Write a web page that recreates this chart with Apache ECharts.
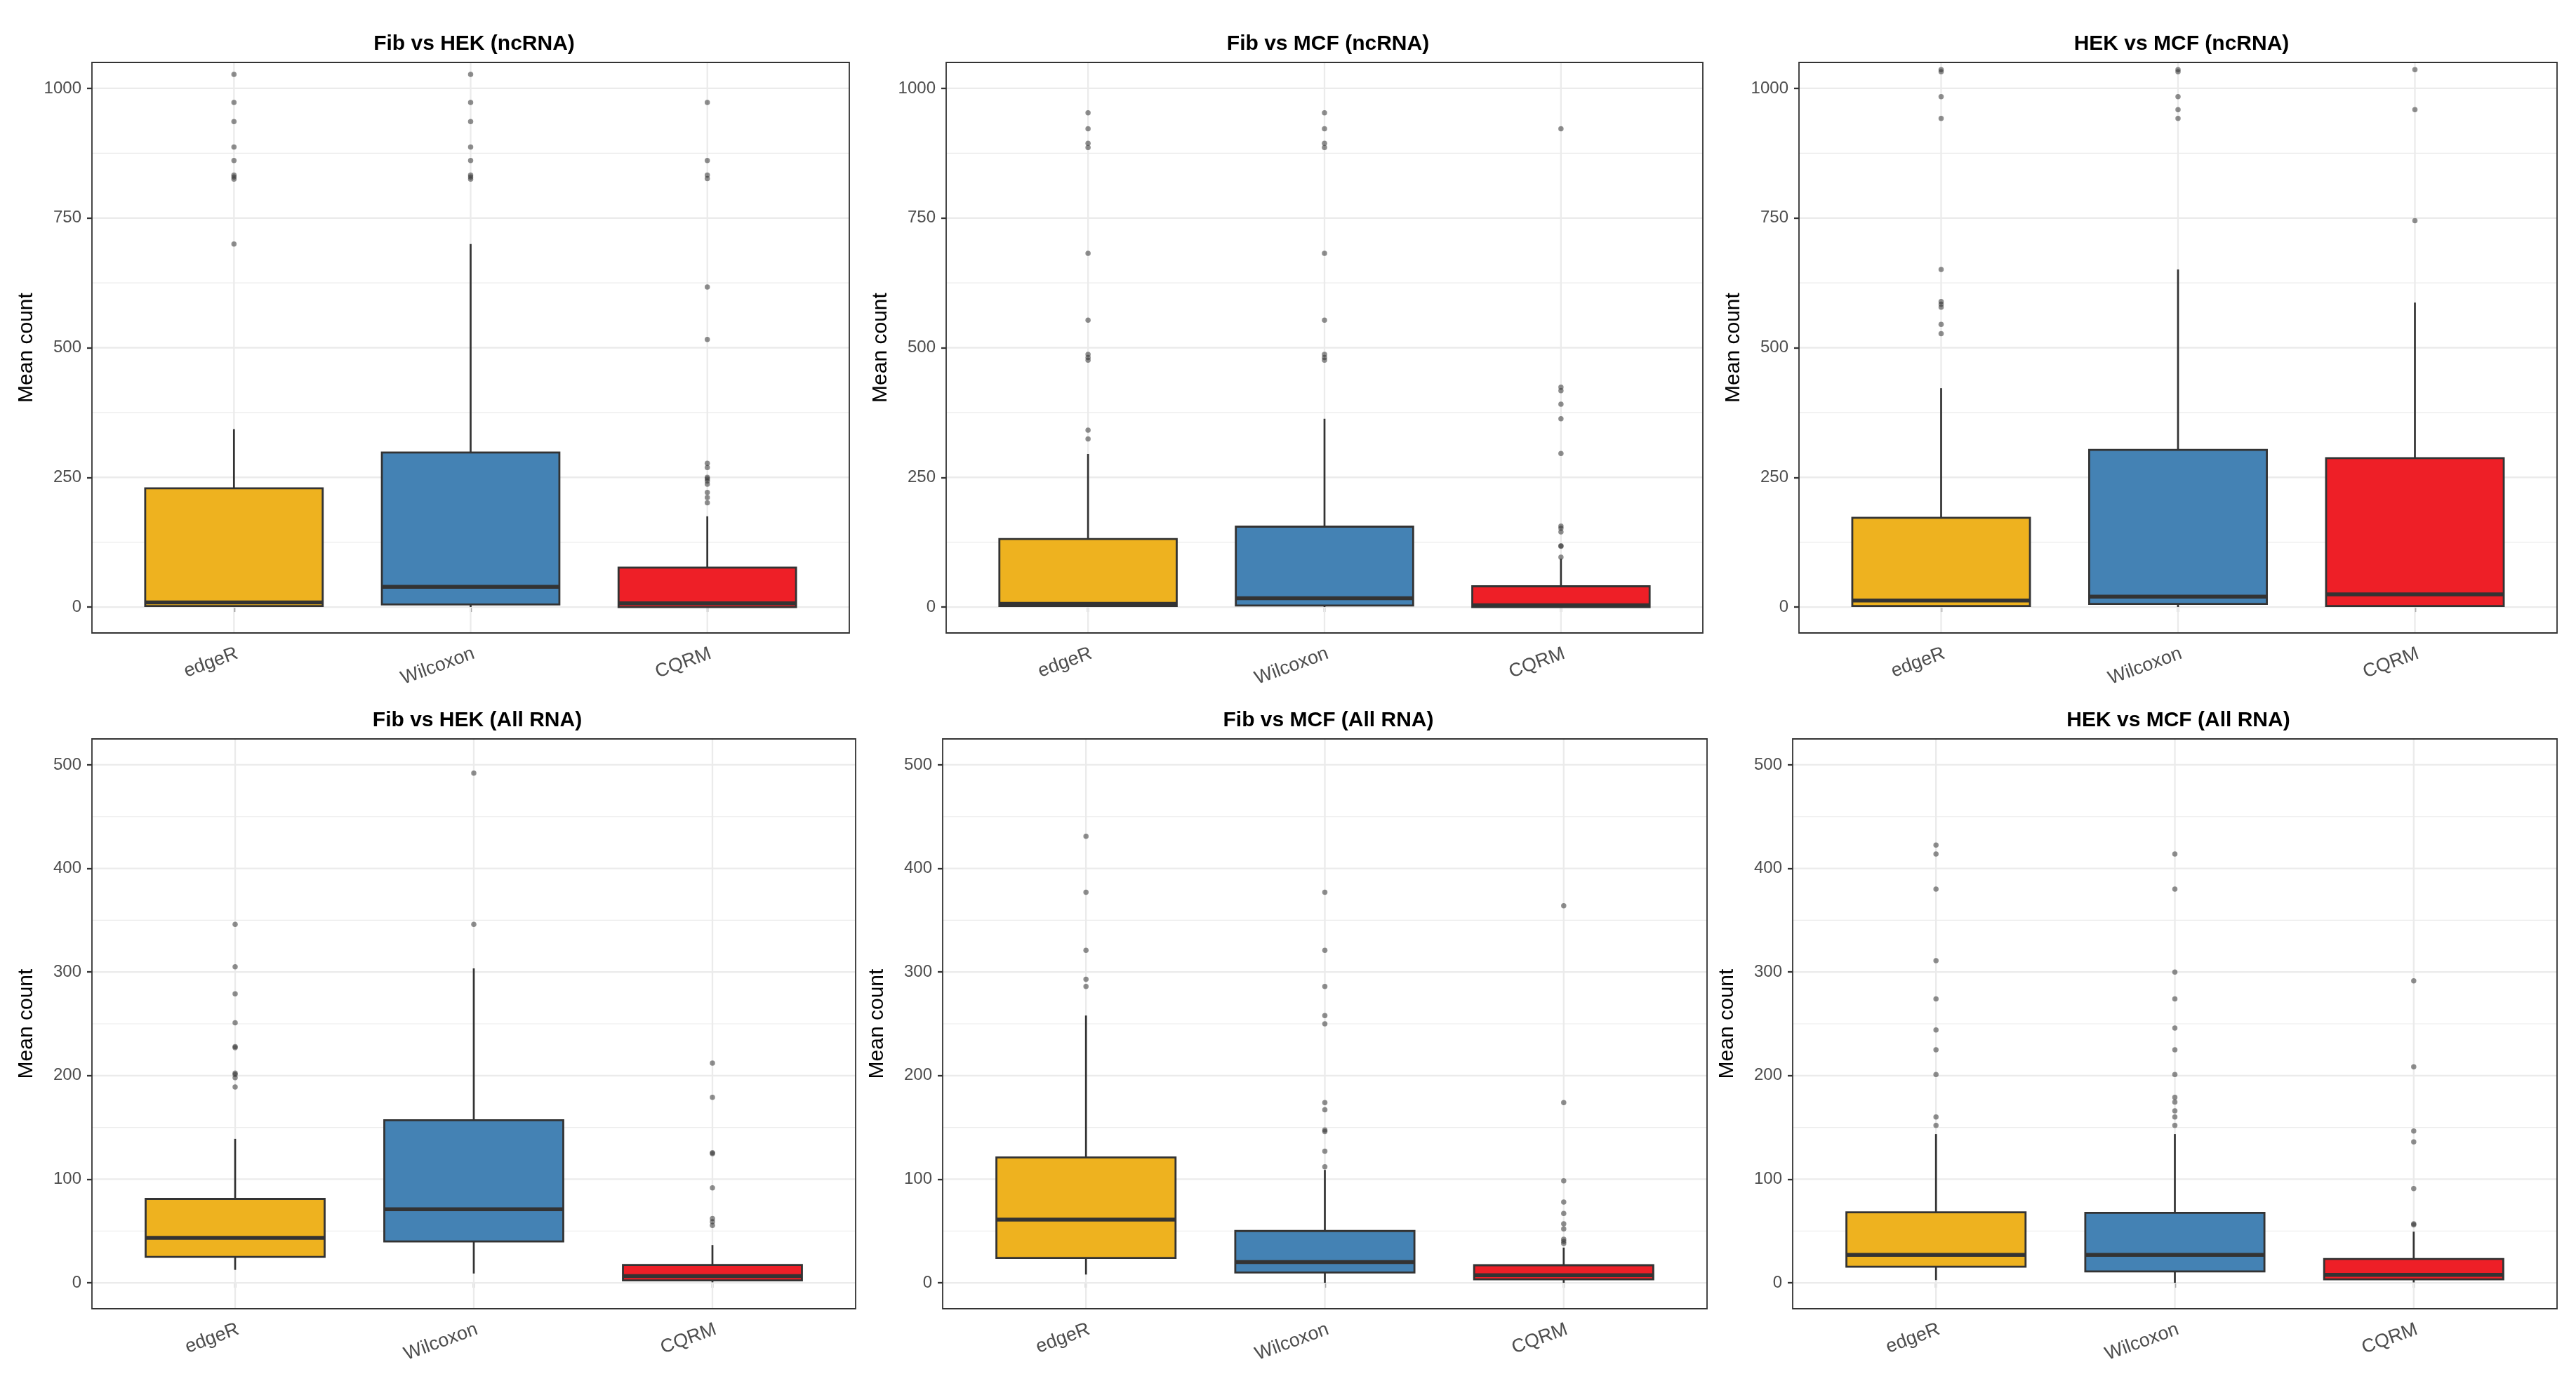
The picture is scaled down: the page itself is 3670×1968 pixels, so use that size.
<!DOCTYPE html>
<html>
<head>
<meta charset="utf-8">
<title>Mean count per method</title>
<script src="https://cdn.jsdelivr.net/npm/echarts@6/dist/echarts.min.js"></script>
<style>
  html, body { margin: 0; padding: 0; background: #ffffff; }
  #chart { width: 3670px; height: 1968px; }
</style>
</head>
<body>
<div id="chart"></div>
<script>
(function() {
  'use strict';

  // ===== data =====
  var METHODS = ['edgeR', 'Wilcoxon', 'CQRM'];

  // box stats per method: [lower whisker, Q1, median, Q3, upper whisker]
  var fibHekNcBox = [[0, 2, 9, 229, 343], [0, 5, 39, 298, 700], [0, 0, 7, 76, 175]];
  var fibHekNcOut = [
    [1027, 973, 936, 887, 861, 833, 829, 825, 700],
    [1027, 973, 936, 887, 861, 833, 829, 825],
    [973, 861, 833, 826, 617, 516, 277, 269, 250, 247, 243, 237, 221, 211, 201]
  ];

  var fibMcfNcBox = [[0, 2, 6, 131, 295], [0, 3, 17, 155, 363], [0, 0, 3.5, 40, 93]];
  var fibMcfNcOut = [
    [953, 922, 894, 886, 682, 553, 487, 481, 476, 341, 324],
    [953, 922, 894, 886, 682, 553, 487, 481, 476],
    [922, 424, 417, 391, 363, 296, 156, 152, 145, 118, 117, 96]
  ];

  var hekMcfNcBox = [[0, 2, 12.7, 172, 422], [0, 6, 20, 303, 651], [0, 2, 24.5, 287, 587]];
  var hekMcfNcOut = [
    [1036, 1032, 984, 942, 651, 589, 584, 578, 545, 527],
    [1036, 1032, 984, 959, 942],
    [1036, 959, 745]
  ];

  var fibHekAllBox = [[12.5, 25, 43.4, 81, 139], [9, 40, 71, 157, 303.5], [0.5, 2.4, 6.5, 17.3, 36.5]];
  var fibHekAllOut = [
    [346, 305, 279, 251, 228, 227, 202.5, 201, 198, 189],
    [492, 346],
    [212, 179, 125.5, 124.7, 91.6, 62, 59, 55.5]
  ];

  var fibMcfAllBox = [[8, 24, 61, 121, 258], [0, 10, 20, 50, 109], [0, 3.4, 7.3, 17, 34]];
  var fibMcfAllOut = [
    [431, 377, 321, 293, 286],
    [377, 321, 286, 258, 250, 174, 167, 147.5, 146, 127, 112],
    [364, 174, 98.5, 78, 67, 57, 52, 42, 40, 38]
  ];

  var hekMcfAllBox = [[2.6, 15.5, 27, 68, 143.6], [0, 11, 27, 67.5, 143.6], [0.4, 3.4, 7.7, 23, 49.4]];
  var hekMcfAllOut = [
    [422.6, 414, 380, 311, 274, 244, 225, 201, 160, 152],
    [414, 380, 300, 274, 246, 225, 201, 179, 174.5, 166, 160, 152],
    [291.5, 208.5, 146.6, 136, 91, 57, 56]
  ];

  var NC_MAJOR = [0, 250, 500, 750, 1000];
  var NC_MINOR = [125, 375, 625, 875];
  var ALL_MAJOR = [0, 100, 200, 300, 400, 500];
  var ALL_MINOR = [50, 150, 250, 350, 450];

  // ===== style / layout =====
  var FONT = '"Liberation Sans", Arial, Helvetica, sans-serif';
  var FILLS = ['#EEB21F', '#4482B4', '#EE1F27'];
  var DARK = '#333333';
  var GRIDLINE = '#EBEBEB';

  var PANELS = [
    { title: 'Fib vs HEK (ncRNA)', box: fibHekNcBox, out: fibHekNcOut, left: 131, top: 89, width: 1079, height: 813, ymin: -50, ymax: 1050, major: NC_MAJOR, minor: NC_MINOR },
    { title: 'Fib vs MCF (ncRNA)', box: fibMcfNcBox, out: fibMcfNcOut, left: 1348, top: 89, width: 1078, height: 813, ymin: -50, ymax: 1050, major: NC_MAJOR, minor: NC_MINOR },
    { title: 'HEK vs MCF (ncRNA)', box: hekMcfNcBox, out: hekMcfNcOut, left: 2563, top: 89, width: 1080, height: 813, ymin: -50, ymax: 1050, major: NC_MAJOR, minor: NC_MINOR },
    { title: 'Fib vs HEK (All RNA)', box: fibHekAllBox, out: fibHekAllOut, left: 131, top: 1053, width: 1088, height: 812, ymin: -25, ymax: 525, major: ALL_MAJOR, minor: ALL_MINOR },
    { title: 'Fib vs MCF (All RNA)', box: fibMcfAllBox, out: fibMcfAllOut, left: 1343, top: 1053, width: 1089, height: 812, ymin: -25, ymax: 525, major: ALL_MAJOR, minor: ALL_MINOR },
    { title: 'HEK vs MCF (All RNA)', box: hekMcfAllBox, out: hekMcfAllOut, left: 2554, top: 1053, width: 1089, height: 812, ymin: -25, ymax: 525, major: ALL_MAJOR, minor: ALL_MINOR }
  ];

  var catPos = METHODS.map(function(m, k) { return k + 1; });

  // 横向网格线（主/次）
  function renderHLine(params, api) {
    var cs = params.coordSys;
    var y = api.coord([2, api.value(0)])[1];
    return {
      type: 'line',
      shape: { x1: cs.x, y1: y, x2: cs.x + cs.width, y2: y },
      style: { stroke: GRIDLINE, lineWidth: api.value(1) ? 2.3 : 1.2 },
      silent: true
    };
  }

  // 纵向网格线（类别位置）
  function renderVLine(params, api) {
    var cs = params.coordSys;
    var x = api.coord([api.value(0), 0])[0];
    return {
      type: 'line',
      shape: { x1: x, y1: cs.y, x2: x, y2: cs.y + cs.height },
      style: { stroke: GRIDLINE, lineWidth: 2.3 },
      silent: true
    };
  }

  // ggplot 风格箱线：无须端横线，中位线加粗
  function renderBox(params, api) {
    var x = api.value(0);
    var half = api.size([0.375, 0])[0];
    var pLow = api.coord([x, api.value(1)]);
    var pQ1 = api.coord([x, api.value(2)]);
    var pMed = api.coord([x, api.value(3)]);
    var pQ3 = api.coord([x, api.value(4)]);
    var pHigh = api.coord([x, api.value(5)]);
    return {
      type: 'group',
      children: [
        { type: 'line', shape: { x1: pLow[0], y1: pLow[1], x2: pQ1[0], y2: pQ1[1] }, style: { stroke: DARK, lineWidth: 2.7 } },
        { type: 'line', shape: { x1: pQ3[0], y1: pQ3[1], x2: pHigh[0], y2: pHigh[1] }, style: { stroke: DARK, lineWidth: 2.7 } },
        { type: 'rect', shape: { x: pQ3[0] - half, y: pQ3[1], width: half * 2, height: pQ1[1] - pQ3[1] },
          style: { fill: FILLS[params.dataIndex], stroke: DARK, lineWidth: 2.8 } },
        { type: 'line', shape: { x1: pMed[0] - half, y1: pMed[1], x2: pMed[0] + half, y2: pMed[1] }, style: { stroke: DARK, lineWidth: 5.5 } }
      ]
    };
  }

  var grids = [], xAxes = [], yAxes = [], titles = [], series = [];

  PANELS.forEach(function(p, i) {
    titles.push({
      text: p.title,
      left: p.left + p.width / 2,
      top: p.top - 46,
      textAlign: 'center',
      textStyle: { fontFamily: FONT, fontSize: 30, fontWeight: 'bold', color: '#000000' }
    });

    grids.push({
      left: p.left, top: p.top, width: p.width, height: p.height,
      show: true, z: 10,
      backgroundColor: 'transparent',
      borderColor: DARK, borderWidth: 1.8
    });

    xAxes.push({
      gridIndex: i, type: 'value', min: 0.4, max: 3.6,
      axisLine: { show: false },
      splitLine: { show: false },
      axisTick: { show: true, customValues: catPos, length: 7, lineStyle: { color: DARK, width: 2.3 } },
      axisLabel: {
        customValues: catPos,
        rotate: 20, align: 'right', verticalAlign: 'top', margin: 16,
        fontFamily: FONT, fontSize: 27, color: '#4D4D4D',
        formatter: function(v) { return METHODS[Math.round(v) - 1] || ''; }
      }
    });

    yAxes.push({
      gridIndex: i, type: 'value', min: p.ymin, max: p.ymax,
      axisLine: { show: false },
      splitLine: { show: false },
      axisTick: { show: true, customValues: p.major, length: 7, lineStyle: { color: DARK, width: 2.3 } },
      axisLabel: {
        customValues: p.major, margin: 15, fontFamily: FONT, fontSize: 24, color: '#4D4D4D',
        formatter: function(v) { return String(v); }
      },
      name: 'Mean count', nameLocation: 'middle', nameGap: 78,
      nameTextStyle: { fontFamily: FONT, fontSize: 30, color: '#000000' }
    });

    series.push({
      type: 'custom', xAxisIndex: i, yAxisIndex: i, z: 1, silent: true,
      renderItem: renderHLine,
      data: p.major.map(function(v) { return [v, 1]; }).concat(p.minor.map(function(v) { return [v, 0]; }))
    });
    series.push({
      type: 'custom', xAxisIndex: i, yAxisIndex: i, z: 1, silent: true,
      renderItem: renderVLine,
      data: catPos.map(function(x) { return [x]; })
    });

    var outData = [];
    p.out.forEach(function(arr, k) {
      arr.forEach(function(v) { outData.push([k + 1, v]); });
    });
    series.push({
      type: 'scatter', xAxisIndex: i, yAxisIndex: i, z: 2,
      symbol: 'circle', symbolSize: 7.5,
      itemStyle: { color: DARK, opacity: 0.55 },
      data: outData
    });

    series.push({
      type: 'custom', xAxisIndex: i, yAxisIndex: i, z: 3,
      renderItem: renderBox,
      data: p.box.map(function(s, k) { return [k + 1].concat(s); })
    });
  });

  var chart = echarts.init(document.getElementById('chart'), null, { renderer: 'canvas' });
  chart.setOption({
    backgroundColor: '#ffffff',
    animation: false,
    title: titles,
    grid: grids,
    xAxis: xAxes,
    yAxis: yAxes,
    series: series
  });
})();
</script>
</body>
</html>
